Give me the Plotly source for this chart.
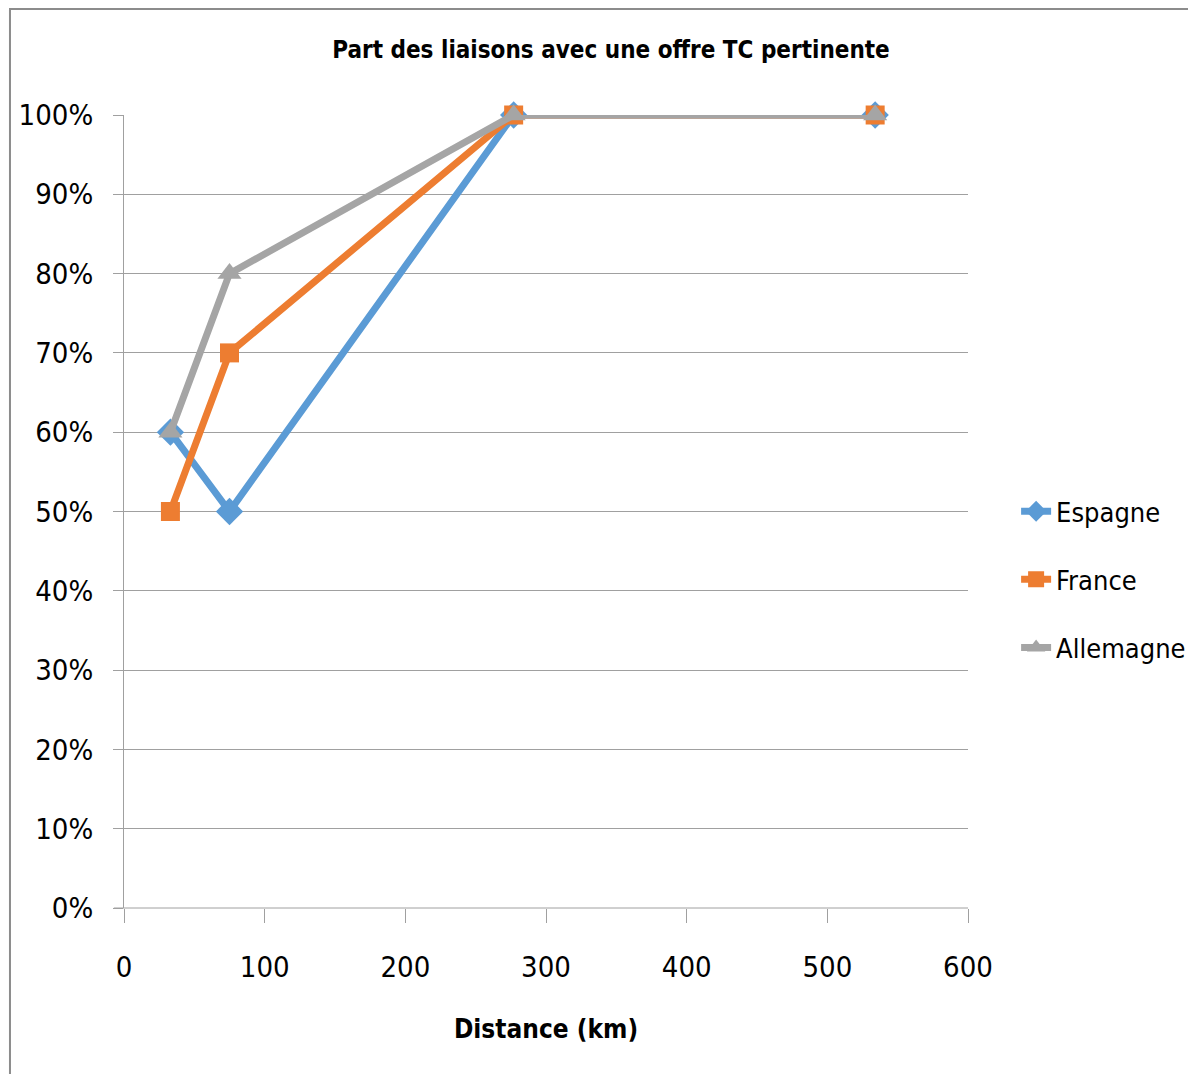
import plotly.graph_objects as go

distance_km = [33, 75, 277, 534]
espagne = [0.60, 0.50, 1.00, 1.00]
france = [0.50, 0.70, 1.00, 1.00]
allemagne = [0.60, 0.80, 1.00, 1.00]
x_ticks = [0, 100, 200, 300, 400, 500, 600]
y_ticks = [0, 0.1, 0.2, 0.3, 0.4, 0.5, 0.6, 0.7, 0.8, 0.9, 1.0]
y_labels = ["0%", "10%", "20%", "30%", "40%", "50%", "60%", "70%", "80%", "90%", "100%"]

FONT = "DejaVu Sans Condensed, DejaVu Sans, sans-serif"

series = [
    ("Espagne", espagne, "#5B9BD5", "diamond", 21),
    ("France", france, "#ED7D31", "square", 19),
    ("Allemagne", allemagne, "#A5A5A5", "triangle-up", 21),
]

fig = go.Figure()
for name, vals, color, sym, size in series:
    fig.add_trace(go.Scatter(
        x=distance_km, y=vals, name=name, mode="lines+markers",
        legendgroup=name, cliponaxis=False,
        line=dict(color=color, width=7),
        marker=dict(symbol=sym, size=size, color=color, line=dict(width=0)),
    ))

# page body has an 8px default margin, so the figure is sized 8px smaller
fig.update_layout(
    width=1188, height=1066,
    paper_bgcolor="white", plot_bgcolor="white",
    margin=dict(l=116, r=228, t=107, b=166, autoexpand=False),
    font=dict(family=FONT, color="black"),
    title=dict(text="<b>Part des liaisons avec une offre TC pertinente</b>",
               x=0.5076, xanchor="center", y=0.9606, yanchor="middle",
               font=dict(size=24, family=FONT)),
    legend=dict(x=1.057, xanchor="left", y=0.414, yanchor="middle",
                font=dict(size=27, family=FONT), itemwidth=30,
                tracegroupgap=30, bgcolor="rgba(0,0,0,0)"),
    xaxis=dict(range=[0, 600], tickvals=x_ticks, showgrid=False,
               zeroline=False, showline=False,
               ticks="outside", ticklen=14, tickcolor="#A0A0A0",
               ticklabelstandoff=19,
               tickfont=dict(size=29, family=FONT),
               title=dict(text="<b>Distance (km)</b>", font=dict(size=26, family=FONT), standoff=37)),
    yaxis=dict(range=[0, 1.0], tickvals=y_ticks, ticktext=y_labels,
               showgrid=True, gridcolor="#A0A0A0", gridwidth=1,
               zeroline=False, showline=True, linecolor="#A0A0A0", linewidth=1,
               ticks="outside", ticklen=10, tickcolor="#A0A0A0",
               ticklabelstandoff=14,
               tickfont=dict(size=29, family=FONT)),
    showlegend=True,
)

# chart outer border (partially cropped on right/bottom in reference)
fig.add_shape(type="rect", xref="paper", yref="paper",
              x0=-0.1351, x1=1.5, y0=-0.5, y1=1.1337,
              line=dict(color="#8C8C8C", width=2), fillcolor="rgba(0,0,0,0)", layer="below")
# bottom axis line at 0%
fig.add_shape(type="line", xref="paper", yref="paper", x0=-0.012, x1=1, y0=0, y1=0,
              line=dict(color="#A0A0A0", width=1))

fig.write_html("out.html")
